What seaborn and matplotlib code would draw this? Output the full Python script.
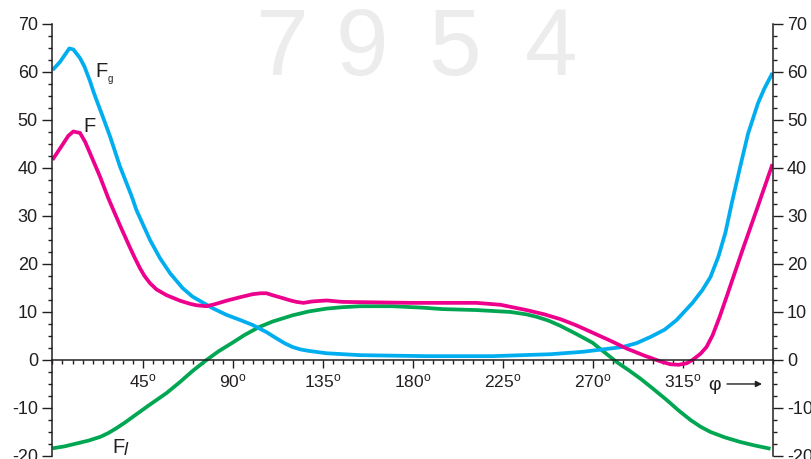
import numpy as np
import pandas as pd
import matplotlib
matplotlib.use("Agg")
import matplotlib.pyplot as plt
import matplotlib.ticker as mticker
import seaborn as sns

# Style
sns.set_style("ticks")
plt.rcParams.update({
    "font.family": ["Liberation Sans", "DejaVu Sans"],
    "axes.unicode_minus": False,
    "mathtext.fontset": "custom",
    "mathtext.rm": "Liberation Sans",
    "mathtext.it": "Liberation Sans:italic",
})

INK = "#231F20"
BLUE = "#00AEEF"
PINK = "#EC008C"
GREEN = "#00A651"

# ─── Data (angle phi in degrees, force values) ───────────────────────────────

phi_g = [0, 3.75, 8.4, 10.4, 13.75, 16, 18.75, 20.4, 22.5, 24.6, 28.75, 33.75,
         39.6, 42, 48.75, 53.75, 58.75, 65, 70, 80, 87, 94, 100, 107, 112, 116,
         120, 124, 128, 137, 154, 187, 220, 249, 265, 285, 292, 299, 306, 312,
         320, 325, 329, 333, 336.5, 339.6, 343.75, 347.75, 352.75, 356, 360]
f_g = [60.3, 62.0, 64.8, 64.6, 62.8, 61.0, 58.0, 55.9, 53.5, 51.2, 46.5, 40.2,
       34.0, 31.1, 24.9, 21.1, 18.0, 14.9, 13.1, 10.7, 9.3, 8.2, 7.2, 5.7, 4.4,
       3.4, 2.6, 2.1, 1.8, 1.3, 0.9, 0.7, 0.7, 1.1, 1.6, 2.6, 3.4, 4.7, 6.2,
       8.2, 11.8, 14.5, 17.2, 21.5, 26.5, 32.5, 40.0, 47.0, 53.4, 56.5, 59.7]

phi_f = [0, 5.4, 7.9, 10.4, 13.75, 16.25, 18.75, 23.75, 27.9, 34, 38.75, 41,
         43.75, 46, 48.75, 52, 57, 63.75, 68.75, 72, 77, 81, 87, 94, 100, 104,
         107, 110, 115, 119, 122, 125.5, 130, 137, 145, 179, 212, 224, 237, 246,
         254, 262, 270, 279, 287, 296, 304, 309, 313, 317, 320, 324, 327, 330,
         333.5, 337, 345, 352, 360]
f_f = [41.6, 45.0, 46.6, 47.5, 47.2, 45.4, 43.0, 38.1, 33.6, 27.7, 23.3, 21.3,
       19.0, 17.4, 15.9, 14.6, 13.4, 12.25, 11.6, 11.3, 11.1, 11.5, 12.25, 13.0,
       13.6, 13.8, 13.8, 13.4, 12.8, 12.3, 12.0, 11.8, 12.1, 12.3, 12.0, 11.8,
       11.8, 11.4, 10.3, 9.4, 8.4, 7.1, 5.6, 3.9, 2.3, 0.8, -0.4, -1.0, -1.1,
       -0.8, -0.1, 1.2, 2.6, 5.0, 8.8, 13.0, 22.8, 31.1, 40.7]

phi_l = [0, 6, 12, 18, 24, 28, 32, 36, 40, 48, 57, 64, 70, 77, 83, 90, 96, 103,
         110, 120, 128, 137, 145, 154, 170, 185, 195, 212, 229, 237, 242, 248,
         254, 262, 270, 276, 282, 288, 294, 300, 307, 313, 319, 324, 329, 336,
         344, 351, 359]
f_l = [-18.5, -18.1, -17.5, -16.9, -16.1, -15.3, -14.3, -13.2, -12.0, -9.6,
       -7.0, -4.6, -2.4, -0.1, 1.7, 3.5, 5.1, 6.7, 7.9, 9.2, 10.0, 10.6, 10.9,
       11.1, 11.1, 10.8, 10.5, 10.3, 9.9, 9.4, 8.9, 8.1, 7.0, 5.3, 3.5, 1.5,
       -0.5, -2.2, -4.0, -6.0, -8.4, -10.6, -12.6, -14.0, -15.1, -16.2, -17.2,
       -17.9, -18.6]

x_major = [45, 90, 135, 180, 225, 270, 315]
x_labels = [f"{v}$^{{\\mathrm{{o}}}}$" for v in x_major]
y_major = [-20, -10, 0, 10, 20, 30, 40, 50, 60, 70]

# ─── Figure ──────────────────────────────────────────────────────────────────

fig = plt.figure(figsize=(8.12, 4.59), dpi=100)
ax = fig.add_axes([52.5 / 812, 3.5 / 459, 720 / 812, 432 / 459])

# faint watermark behind the chart
for ch, xp in zip("7954", [281, 362, 455, 551]):
    fig.text(xp / 812, 1 - 75 / 459, ch, fontsize=68, color="#ECECEC",
             ha="center", va="baseline", zorder=0)

df_g = pd.DataFrame({"phi": phi_g, "force": f_g})
df_f = pd.DataFrame({"phi": phi_f, "force": f_f})
df_l = pd.DataFrame({"phi": phi_l, "force": f_l})

for d, c in [(df_l, GREEN), (df_g, BLUE), (df_f, PINK)]:
    sns.lineplot(data=d, x="phi", y="force", color=c, lw=2.7, ax=ax,
                 sort=False, estimator=None, solid_capstyle="butt",
                 solid_joinstyle="round")

ax.set_xlim(0, 360)
ax.set_ylim(-20, 70)
ax.patch.set_alpha(0)
ax.set_xlabel("")
ax.set_ylabel("")

ax.spines["top"].set_visible(False)
ax.spines["bottom"].set_position(("data", 0))
for s in ["left", "right", "bottom"]:
    ax.spines[s].set_color(INK)
    ax.spines[s].set_linewidth(1.1)

ax.set_xticks(x_major)
ax.set_xticklabels(x_labels)
ax.xaxis.set_minor_locator(mticker.MultipleLocator(5))
ax.set_yticks(y_major)
ax.yaxis.set_minor_locator(mticker.MultipleLocator(2.5))

ax.tick_params(axis="x", which="major", direction="out", length=6, width=1,
               color=INK, labelsize=12.5, labelcolor=INK, pad=3)
ax.tick_params(axis="x", which="minor", direction="out", length=3, width=1,
               color=INK)
ax.tick_params(axis="y", which="both", left=True, right=True,
               labelleft=True, labelright=True, direction="out", color=INK)
ax.tick_params(axis="y", which="major", length=7, width=1, labelsize=13,
               labelcolor=INK, pad=3.5)
ax.tick_params(axis="y", which="minor", length=3, width=1)

# curve labels
ax.text(21.25, 58.9, "F", fontsize=14.5, color=INK, ha="left", va="baseline")
ax.text(27.6, 57.8, "g", fontsize=7, color=INK, ha="left", va="baseline")
ax.text(15.25, 47.4, "F", fontsize=14.5, color=INK, ha="left", va="baseline")
ax.text(29.75, -19.5, "F", fontsize=14.5, color=INK, ha="left", va="baseline")
ax.text(35.6, -19.9, "l", fontsize=13, color=INK, style="italic",
        ha="left", va="baseline", clip_on=False)

# axis name with arrow
ax.text(331.25, -6.4, "φ", fontsize=14, color=INK, ha="center", va="baseline")
ax.annotate("", xy=(354.75, -5.1), xytext=(337.25, -5.1),
            arrowprops=dict(arrowstyle="-|>", color=INK, lw=1.0,
                            mutation_scale=9, shrinkA=0, shrinkB=0))

plt.savefig("out.png", dpi=100)
plt.close()
